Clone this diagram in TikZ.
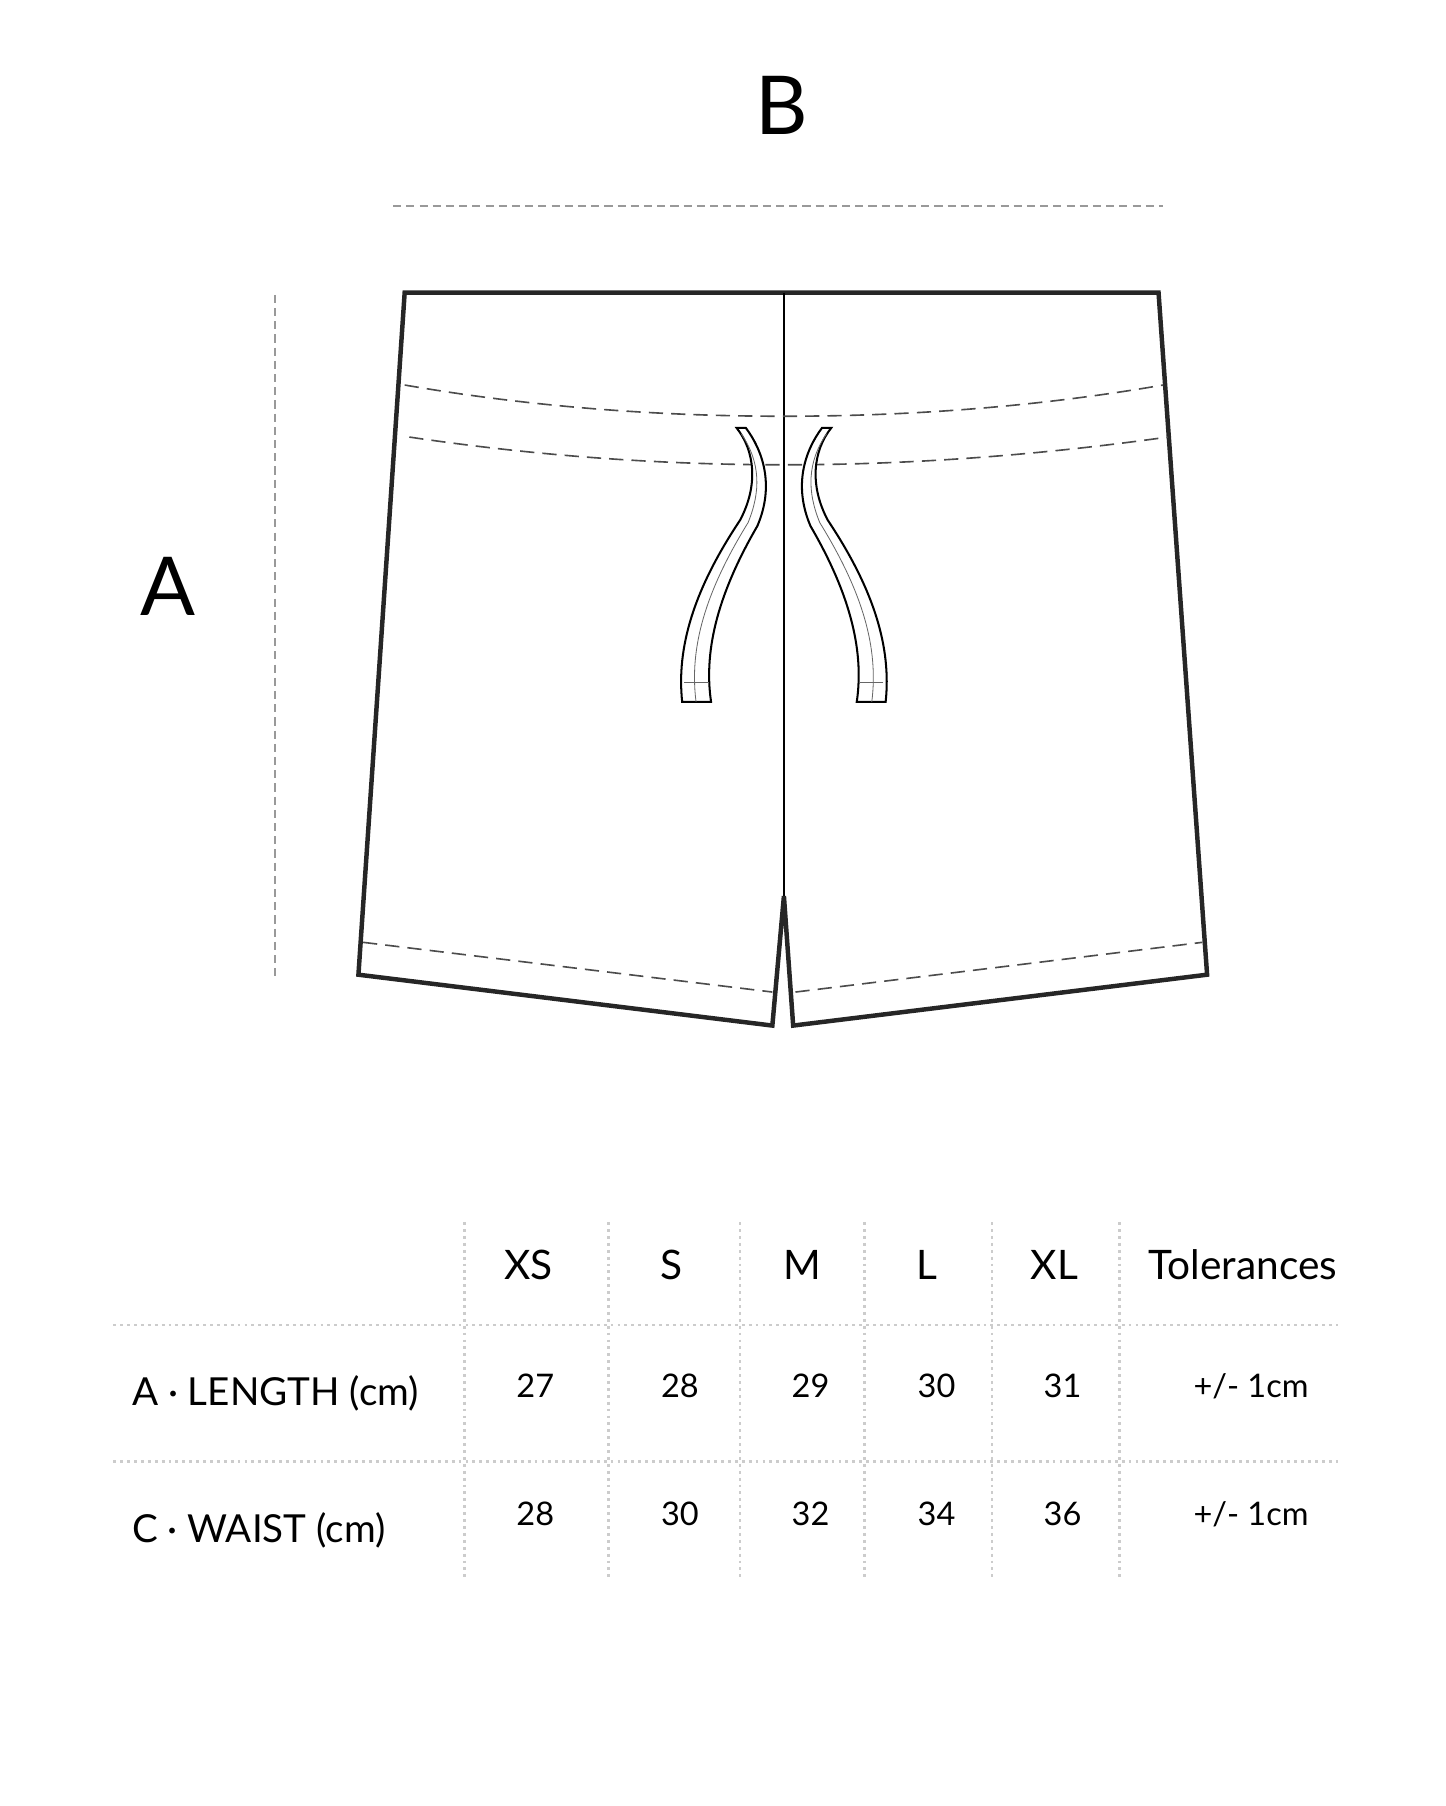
\documentclass[tikz,border=0pt]{standalone}
\usepackage{fontspec}
\setmainfont{Lato}
\begin{document}
\begin{tikzpicture}[x=0.02cm,y=-0.02cm,
  outl/.style={line width=2.2pt,line join=miter,black!85},
  seam/.style={dashed,dash pattern=on 7pt off 4pt,line width=0.8pt,black!70},
  dim/.style={dashed,dash pattern=on 4pt off 2.5pt,line width=1.2pt,black!40},
  grid/.style={dotted,line width=1.4pt,black!20},
  hd/.style={font=\fontsize{20}{24}\selectfont,anchor=base},
  val/.style={font=\fontsize{16}{20}\selectfont,anchor=base},
  lab/.style={font=\fontsize{19}{23}\selectfont,anchor=base west}]
\useasboundingbox (0,0) rectangle (1250,1562);
\node[font=\fontsize{40}{44}\selectfont,anchor=base] (B) at (676,116) {B};
\node[font=\fontsize{40}{44}\selectfont,anchor=base] (A) at (145,532) {A};
\coordinate (b1) at (340,178); \coordinate (b2) at (1006,178);
\draw[dim] (b1) -- (b2);
\coordinate (a1) at (238,255); \coordinate (a2) at (238,845);
\draw[dim] (a1) -- (a2);
% shorts
\draw[outl] (350,253) -- (1002,253) -- (1044,843) -- (686,887) -- (678,775) -- (668,887) -- (310,843) -- cycle;
\draw[line width=0.9pt] (678,253) -- (678,775);
\draw[seam] (350,333) .. controls (460,352) and (570,360) .. (678,360) .. controls (786,360) and (896,352) .. (1006,333);
\draw[seam] (354,378) .. controls (462,394) and (570,402) .. (678,402) .. controls (786,402) and (896,394) .. (1010,378);
\draw[seam] (314,815) -- (668,858);
\draw[seam] (688,858) -- (1040,815);
% drawstrings
\foreach \s in {1,-1}{
\begin{scope}[shift={(678,0)},xscale=\s]
\draw[line width=1pt,fill=white] (-41,370) .. controls (-25,390) and (-22,420) .. (-38,450) .. controls (-78,510) and (-93,560) .. (-88,607) -- (-63,607) .. controls (-70,560) and (-55,510) .. (-23,455) .. controls (-8,420) and (-18,390) .. (-33,370) -- cycle;
\draw[line width=0.4pt,black!60] (-37,375) .. controls (-20,400) and (-20,425) .. (-31,452) .. controls (-68,512) and (-82,560) .. (-76,607);
\draw[line width=0.4pt,black!60] (-86,590) -- (-65,590);
\end{scope}}
% table
\foreach \x in {402,526,640,748,858,968}{\draw[grid] (\x,1057) -- (\x,1365);}
\foreach \y in {1146,1264}{\draw[grid] (98,\y) -- (1157,\y);}
\node[hd] (h1) at (457,1107) {XS};
\node[hd] (h2) at (581,1107) {S};
\node[hd] (h3) at (694,1107) {M};
\node[hd] (h4) at (802,1107) {L};
\node[hd] (h5) at (912,1107) {XL};
\node[hd] (h6) at (1075,1107) {Tolerances};
\node[lab] (r1) at (108,1216) {A · LENGTH (cm)};
\node[lab] (r2) at (108,1334) {C · WAIST (cm)};
\foreach \v/\x in {27/463,28/588,29/701,30/810,31/919}{\node[val] at (\x,1209) {\v};}
\foreach \v/\x in {28/463,30/588,32/701,34/810,36/919}{\node[val] at (\x,1319) {\v};}
\node[val] (t1) at (1082,1209) {+/- 1cm};
\node[val] (t2) at (1082,1319) {+/- 1cm};
\end{tikzpicture}
\end{document}
